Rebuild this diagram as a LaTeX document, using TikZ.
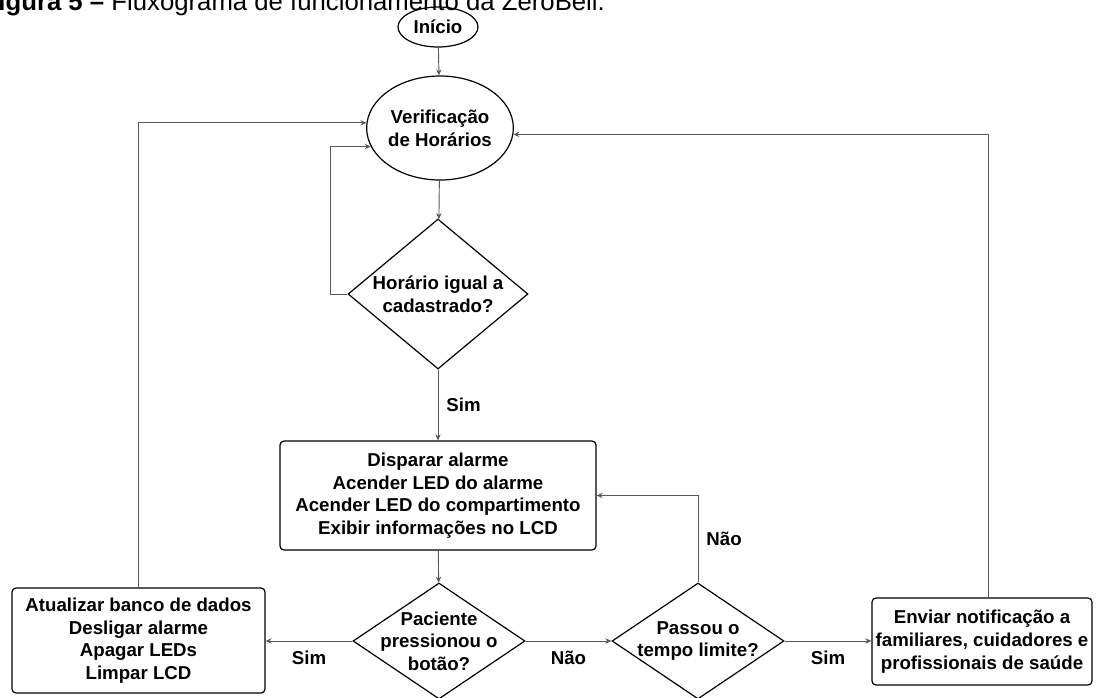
\documentclass[tikz,border=0pt]{standalone}
\usepackage{fontspec}
\setmainfont{Liberation Sans}
\usetikzlibrary{arrows.meta,shapes.geometric}

\begin{document}
\begin{tikzpicture}[
  x=0.75pt, y=-0.75pt,
  >={Stealth[length=4.5pt,width=4pt]},
  every node/.style={font=\fontsize{14}{17}\selectfont\bfseries, align=center},
  terminal/.style={draw, ellipse, line width=0.9pt, inner sep=0pt},
  process/.style={draw, rectangle, rounded corners=3pt, line width=0.9pt, inner sep=0pt},
  decision/.style={draw, diamond, line width=0.9pt, inner sep=0pt},
  choice/.style={decision, shape aspect=1.48, minimum width=129pt, minimum height=87pt,
                 inner xsep=-3pt, inner ysep=-10pt},
  flow/.style={->, draw=black!65, line width=0.7pt},
  answer/.style={inner sep=2pt},
]
\useasboundingbox (0,0) rectangle (1099,697);

% caption, cut by the page edge
\node[anchor=base west, font=\fontsize{19.3}{23}\selectfont] (caption) at (-22,10)
  {\textbf{Figura 5 –} Fluxograma de funcionamento da ZeroBell.};

% main column
\node[terminal, minimum width=60pt, minimum height=30pt] (start) at (438,27) {Início};
\node[terminal, minimum width=88.5pt, minimum height=78pt] (check) at (440,128)
  {Verificação\\de Horários};
\node[decision, shape aspect=1.2, minimum width=135pt, minimum height=112.5pt] (dia1) at (438,294)
  {Horário igual a\\cadastrado?};
\node[process, minimum width=237pt, minimum height=81.75pt] (box1) at (438,495.5)
  {Disparar alarme\\Acender LED do alarme\\Acender LED do compartimento\\Exibir informações no LCD};
\node[choice] (dia2) at (439,641) {Paciente\\pressionou o\\botão?};
\node[choice] (dia3) at (698,641) {Passou o\\tempo limite?};

% side boxes
\node[process, minimum width=189.75pt, minimum height=78.75pt] (box2) at (138.5,640.5)
  {Atualizar banco de dados\\Desligar alarme\\Apagar LEDs\\Limpar LCD};
\node[process, minimum width=165pt, minimum height=65.25pt] (box3) at (982,641.5)
  {Enviar notificação a\\familiares, cuidadores e\\profissionais de saúde};

% connectors
\draw[flow] (start) -- (check);
\draw[flow] (check) -- (dia1);
\draw[flow] (dia1.west) -- ++(-17,0) |- (check.195);
\draw[flow] (dia1) -- node[answer, right=4pt] {Sim} (box1);
\draw[flow] (box1) -- (dia2);
\draw[flow] (dia2.west) -- node[answer, below=5pt] {Sim} (dia2.west -| box2.east);
\draw[flow] (dia2.east) -- node[answer, below=5pt] {Não} (dia3.west);
\draw[flow] (dia3.east) -- node[answer, below=5pt] {Sim} (dia3.east -| box3.west);
\draw[flow] (dia3.north) |- node[answer, pos=0.25, right=4pt] {Não} (box1.east);

% back to the check
\draw[flow] (box2.north) |- (check.176);
\draw[flow] ([xshift=4.5pt]box3.north) |- (check.355);
\end{tikzpicture}
\end{document}
